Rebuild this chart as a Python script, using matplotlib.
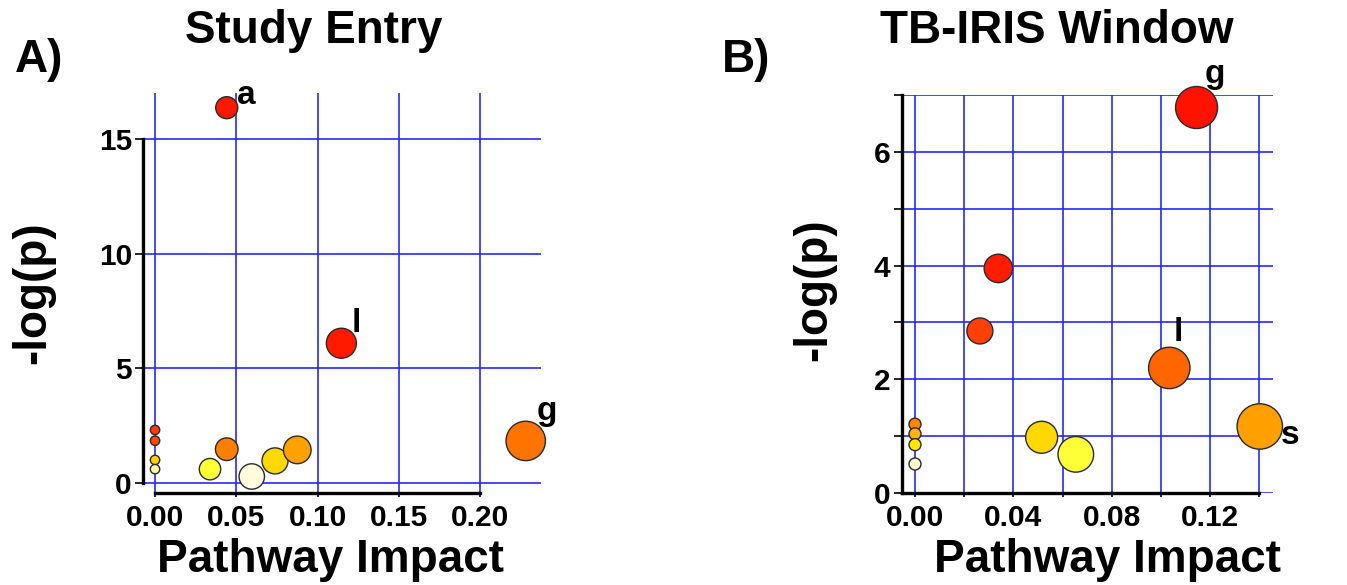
import numpy as np
import matplotlib.pyplot as plt
from matplotlib.ticker import MultipleLocator

plt.rcParams['font.family'] = ['Liberation Sans', 'DejaVu Sans']
plt.rcParams['font.weight'] = 'bold'

# panel A - study entry
a_impact = [0.0, 0.0, 0.0, 0.0, 0.0338, 0.0441, 0.0595, 0.0738, 0.0875, 0.0441, 0.1146, 0.228]
a_logp = [2.31, 1.84, 1.0, 0.6, 0.60, 1.47, 0.28, 0.96, 1.44, 16.36, 6.09, 1.83]
a_radius = [4.7, 4.7, 4.7, 4.7, 10.7, 11.3, 12.7, 13.0, 13.8, 11.0, 15.0, 19.7]
a_colors = ['#ff3a00', '#ff4a00', '#ffd000', '#fff5a0', '#ffff33', '#ff8000',
            '#fffbdc', '#ffd800', '#ffa200', '#ff1800', '#ff1a00', '#ff7400']
a_names = {9: 'a', 10: 'l', 11: 'g'}
a_offsets = {9: (20, 12), 10: (15, 20), 11: (21, 29)}

# panel B - TB-IRIS window
b_impact = [0.0, 0.0, 0.0, 0.0, 0.0515, 0.0654, 0.0264, 0.0339, 0.1034, 0.1402, 0.1145]
b_logp = [1.21, 1.04, 0.85, 0.51, 0.98, 0.68, 2.85, 3.95, 2.20, 1.17, 6.78]
b_radius = [6.0, 6.0, 6.0, 6.0, 16.0, 17.8, 13.0, 14.2, 20.7, 22.7, 21.0]
b_colors = ['#ff8200', '#ffb400', '#ffe600', '#fffad0', '#ffd800', '#ffff38',
            '#ff4000', '#ff1c00', '#ff6600', '#ffa000', '#ff1200']
b_names = {8: 'l', 9: 's', 10: 'g'}
b_offsets = {8: (9, 35), 9: (30, -9), 10: (18, 33)}

W, H = 1347, 585
fig = plt.figure(figsize=(W / 100, H / 100), dpi=100)

def px_box(x0, x1, top, bottom):
    return [x0 / W, 1 - bottom / H, (x1 - x0) / W, (bottom - top) / H]

def bubble(ax, xs, ys, rads, cols, names, offs):
    s = [(1.44 * r) ** 2 for r in rads]
    ax.scatter(xs, ys, s=s, c=cols, edgecolors='#2a2a2a', linewidths=1.0,
               zorder=3, clip_on=False)
    for i, t in names.items():
        ax.annotate(t, (xs[i], ys[i]), xytext=(offs[i][0] * 0.72, offs[i][1] * 0.72),
                    textcoords='offset points', ha='center', va='center',
                    fontsize=24, fontweight='bold', zorder=4)

def style(ax):
    ax.set_axisbelow(True)
    ax.grid(True, which='both', color='#2828ff', lw=1.2)
    for sp in ['top', 'right']:
        ax.spines[sp].set_visible(False)
    for sp in ['left', 'bottom']:
        ax.spines[sp].set_linewidth(2.4)
    ax.tick_params(which='both', width=1.2, labelsize=21.5)
    ax.tick_params(axis='y', which='both', length=6, pad=2)
    ax.tick_params(axis='x', which='both', length=3, pad=5)
    for lab in ax.get_xticklabels() + ax.get_yticklabels():
        lab.set_fontweight('bold')

# A
ax1 = fig.add_axes(px_box(143, 541, 93, 493))
bubble(ax1, a_impact, a_logp, a_radius, a_colors, a_names, a_offsets)
ax1.set_xlim(-0.0074, 0.2374)
ax1.set_ylim(-0.44, 17.0)
ax1.set_xticks([0.0, 0.05, 0.10, 0.15, 0.20])
ax1.set_xticklabels(['0.00', '0.05', '0.10', '0.15', '0.20'])
ax1.set_yticks([0, 5, 10, 15])
ax1.spines['left'].set_bounds(0, 15)
ax1.spines['bottom'].set_bounds(0, 0.20)
style(ax1)
ax1.set_xlabel('Pathway Impact', fontsize=33, fontweight='bold', va='baseline')
ax1.xaxis.set_label_coords(0.47, -0.197)
ax1.set_ylabel('-log(p)', fontsize=33, fontweight='bold', va='center')
ax1.yaxis.set_label_coords(-0.276, 0.5)

# B
ax2 = fig.add_axes(px_box(901.7, 1273.3, 95, 493))
bubble(ax2, b_impact, b_logp, b_radius, b_colors, b_names, b_offsets)
ax2.set_xlim(-0.0054, 0.1457)
ax2.set_ylim(0, 7)
ax2.set_xticks([0.0, 0.04, 0.08, 0.12])
ax2.set_xticklabels(['0.00', '0.04', '0.08', '0.12'])
ax2.set_xticks([0.02, 0.06, 0.10, 0.14], minor=True)
ax2.set_yticks([0, 2, 4, 6])
ax2.set_yticks([1, 3, 5, 7], minor=True)
ax2.spines['bottom'].set_bounds(-0.0054, 0.14)
style(ax2)
ax2.set_xlabel('Pathway Impact', fontsize=33, fontweight='bold', va='baseline')
ax2.xaxis.set_label_coords(0.555, -0.198)
ax2.set_ylabel('-log(p)', fontsize=33, fontweight='bold', va='center')
ax2.yaxis.set_label_coords(-0.236, 0.51)

fig.text(314 / W, 1 - 43 / H, 'Study Entry', fontsize=33, fontweight='bold',
         ha='center', va='baseline')
fig.text(1057 / W, 1 - 43 / H, 'TB-IRIS Window', fontsize=33, fontweight='bold',
         ha='center', va='baseline')
fig.text(15 / W, 1 - 72 / H, 'A)', fontsize=33, fontweight='bold', ha='left', va='baseline')
fig.text(722 / W, 1 - 72 / H, 'B)', fontsize=33, fontweight='bold', ha='left', va='baseline')

plt.savefig('out.png', dpi=100)
